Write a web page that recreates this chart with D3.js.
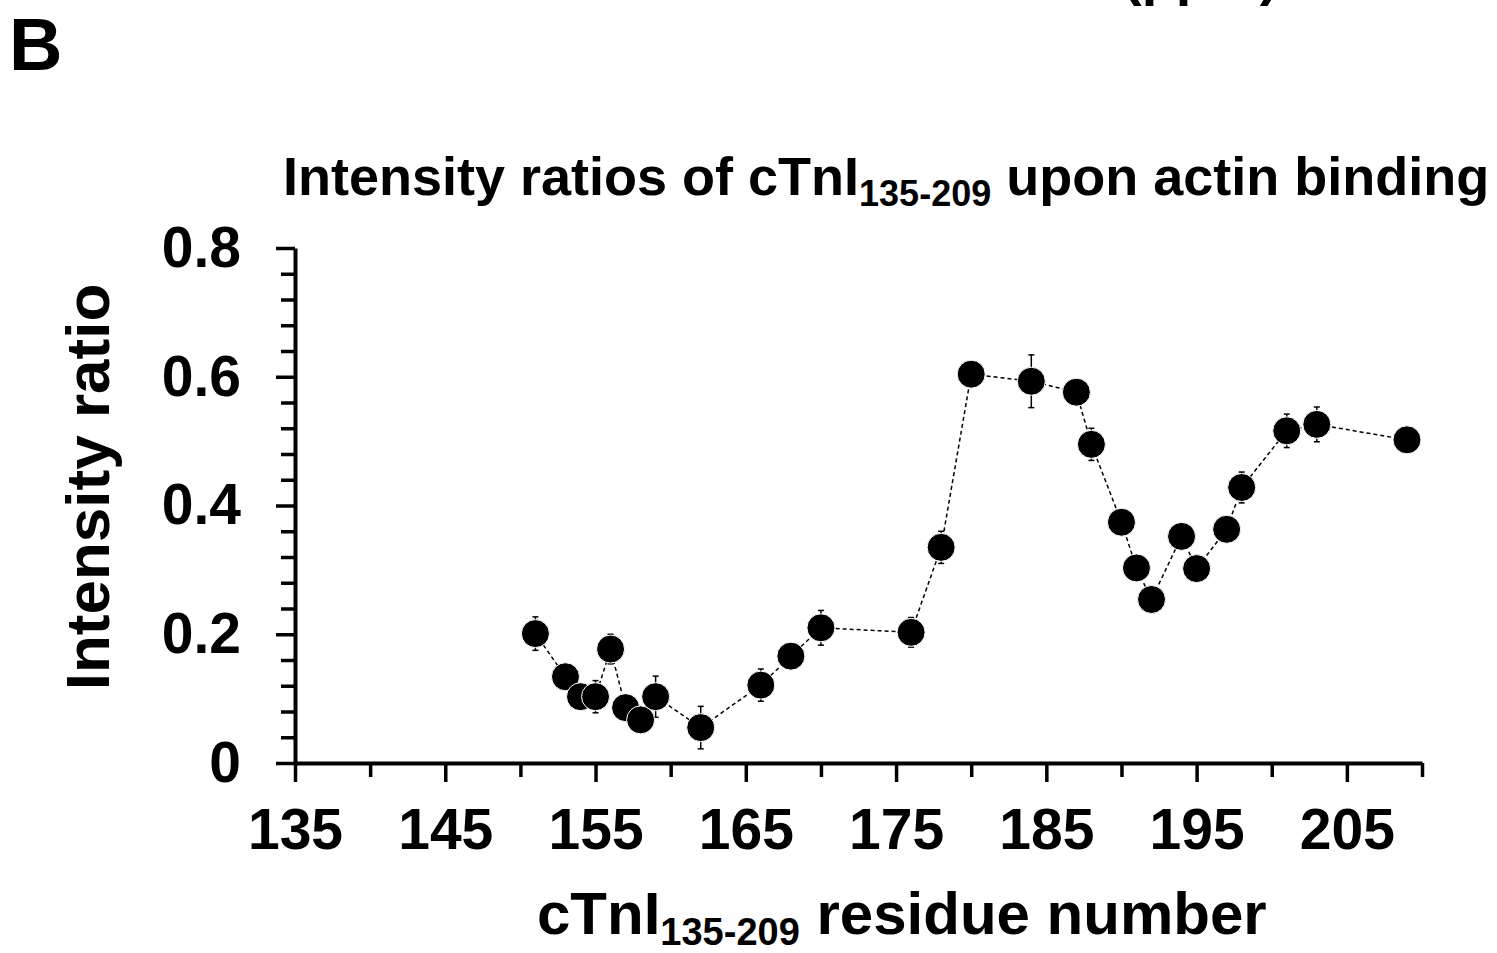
<!DOCTYPE html>
<html><head><meta charset="utf-8">
<script src="https://cdn.jsdelivr.net/npm/d3@7"></script>
<style>body{margin:0;background:#fff;overflow:hidden}</style>
</head><body>
<svg id="chart" width="1497" height="953"></svg>
<script>
// ---- data ----
const residues = [151,153,154,155,156,157,158,159,162,166,168,170,176,178,180,184,187,188,190,191,192,194,195,197,198,201,203,209];
const ratios   = [0.201,0.134,0.103,0.103,0.177,0.086,0.067,0.103,0.055,0.121,0.166,0.210,0.203,0.335,0.604,0.593,0.576,0.495,0.374,0.303,0.254,0.352,0.302,0.363,0.428,0.516,0.526,0.502];
const errors   = [0.026,0.015,0.015,0.025,0.023,0.015,0.015,0.032,0.033,0.025,0.015,0.027,0.023,0.025,0.015,0.041,0.015,0.025,0.015,0.015,0.015,0.015,0.015,0.015,0.024,0.026,0.027,0.015];
const xMajorTicks = [135,145,155,165,175,185,195,205];
const xMinorTicks = [140,150,160,170,180,190,200,210];
const yMajorTicks = [0,0.2,0.4,0.6,0.8];
const yTickLabels = ["0","0.2","0.4","0.6","0.8"];
const yMinorTicks = [0.04,0.08,0.12,0.16,0.24,0.28,0.32,0.36,0.44,0.48,0.52,0.56,0.64,0.68,0.72,0.76];

const FONT = "'Liberation Sans', Arial, Helvetica, sans-serif";
const svg = d3.select("#chart").style("font-family", FONT);

const x = d3.scaleLinear().domain([135, 210]).range([295, 1422]);
const y = d3.scaleLinear().domain([0, 0.8]).range([763, 248]);

const data = residues.map((r, i) => ({r, v: ratios[i], e: errors[i]}));

// panel letter
svg.append("text").attr("x", 9).attr("y", 70)
  .attr("font-size", 74).attr("font-weight", "bold").text("B");

// text from the panel above, cut by the top edge as in the reference
svg.append("text").attr("x", 1123).attr("y", -6)
  .attr("font-size", 56).attr("font-weight", "bold").text("(ppm)");

// title
const title = svg.append("text").attr("x", 283).attr("y", 195)
  .attr("font-size", 54).attr("font-weight", "bold");
title.append("tspan").text("Intensity ratios of cTnI");
title.append("tspan").attr("font-size", 36).attr("dy", 11).text("135-209");
title.append("tspan").attr("dy", -11).text(" upon actin binding");

// axes
const axisStyle = g => {
  g.selectAll("path.domain").attr("stroke", "#000").attr("stroke-width", 4);
  g.selectAll(".tick line").attr("stroke", "#000").attr("stroke-width", 3.5);
  g.selectAll(".tick text").attr("font-size", 57).attr("font-weight", "bold")
    .attr("font-family", FONT).attr("fill", "#000");
};

svg.append("g").attr("transform", "translate(295,0)")
  .call(d3.axisLeft(y).tickValues(yMinorTicks).tickSize(14).tickSizeOuter(0).tickFormat(""))
  .call(axisStyle).select("path.domain").remove();
svg.append("g").attr("transform", "translate(295,0)")
  .call(d3.axisLeft(y).tickValues(yMajorTicks).tickSize(19).tickSizeOuter(0).tickPadding(35)
    .tickFormat((d, i) => yTickLabels[i]))
  .call(axisStyle);

svg.append("g").attr("transform", "translate(0,763)")
  .call(d3.axisBottom(x).tickValues(xMinorTicks).tickSize(14).tickSizeOuter(0).tickFormat(""))
  .call(axisStyle).select("path.domain").remove();
svg.append("g").attr("transform", "translate(0,763)")
  .call(d3.axisBottom(x).tickValues(xMajorTicks).tickSize(19).tickSizeOuter(0).tickPadding(27)
    .tickFormat(d3.format("d")))
  .call(axisStyle);

// axis labels
const xl = svg.append("text").attr("x", 537).attr("y", 934)
  .attr("font-size", 60).attr("font-weight", "bold");
xl.append("tspan").text("cTnI");
xl.append("tspan").attr("font-size", 38).attr("dy", 11).text("135-209");
xl.append("tspan").attr("dy", -11).text(" residue number");

svg.append("text").attr("transform", "translate(109,487) rotate(-90)")
  .attr("text-anchor", "middle").attr("font-size", 62).attr("font-weight", "bold")
  .text("Intensity ratio");

// dashed connecting line
svg.append("path").datum(data)
  .attr("fill", "none").attr("stroke", "#000").attr("stroke-width", 1.5)
  .attr("stroke-dasharray", "4,3")
  .attr("d", d3.line().x(d => x(d.r)).y(d => y(d.v)));

// error bars
const eb = svg.append("g").attr("stroke", "#000").attr("stroke-width", 1.5);
eb.selectAll("line.v").data(data).join("line")
  .attr("x1", d => x(d.r)).attr("x2", d => x(d.r))
  .attr("y1", d => y(d.v - d.e)).attr("y2", d => y(d.v + d.e));
eb.selectAll("line.t").data(data).join("line")
  .attr("x1", d => x(d.r) - 3).attr("x2", d => x(d.r) + 3)
  .attr("y1", d => y(d.v + d.e)).attr("y2", d => y(d.v + d.e));
eb.selectAll("line.b").data(data).join("line")
  .attr("x1", d => x(d.r) - 3).attr("x2", d => x(d.r) + 3)
  .attr("y1", d => y(d.v - d.e)).attr("y2", d => y(d.v - d.e));

// markers
svg.append("g").selectAll("circle").data(data).join("circle")
  .attr("cx", d => x(d.r)).attr("cy", d => y(d.v)).attr("r", 14)
  .attr("fill", "#000").attr("stroke", "#fff").attr("stroke-width", 1);
</script>
</body></html>
